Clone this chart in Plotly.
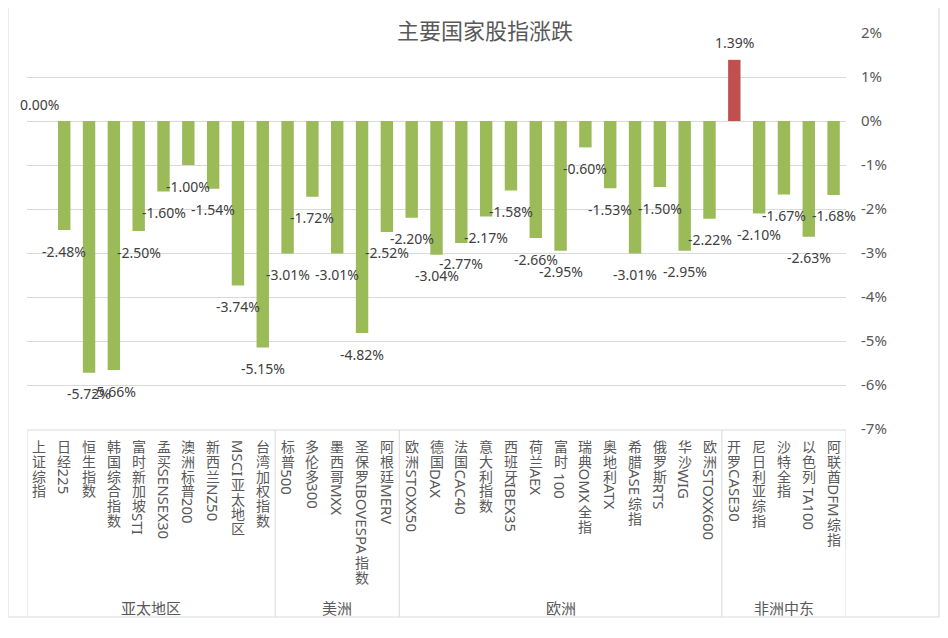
import plotly.graph_objects as go

# ---------------- data ----------------
groups = ["亚太地区", "美洲", "欧洲", "非洲中东"]
group_members = [
    ["上证综指", "日经225", "恒生指数", "韩国综合指数", "富时新加坡STI", "孟买SENSEX30",
     "澳洲标普200", "新西兰NZ50", "MSCI亚太地区", "台湾加权指数"],
    ["标普500", "多伦多300", "墨西哥MXX", "圣保罗IBOVESPA指数", "阿根廷MERV"],
    ["欧洲STOXX50", "德国DAX", "法国CAC40", "意大利指数", "西班牙IBEX35", "荷兰AEX",
     "富时 100", "瑞典OMX全指", "奥地利ATX", "希腊ASE综指", "俄罗斯RTS", "华沙WIG",
     "欧洲STOXX600"],
    ["开罗CASE30", "尼日利亚综指", "沙特全指", "以色列 TA100", "阿联酋DFM综指"],
]
values = [0.00, -2.48, -5.72, -5.66, -2.50, -1.60, -1.00, -1.54, -3.74, -5.15,
          -3.01, -1.72, -3.01, -4.82, -2.52,
          -2.20, -3.04, -2.77, -2.17, -1.58, -2.66, -2.95, -0.60, -1.53, -3.01, -1.50, -2.95, -2.22,
          1.39, -2.10, -1.67, -2.63, -1.68]
y_ticks = [2, 1, 0, -1, -2, -3, -4, -5, -6, -7]
y_ticktext = [f"{t}%" for t in y_ticks]
title = "主要国家股指涨跌"

categories = [c for g in group_members for c in g]
xs = list(range(len(categories)))

# ---------------- style ----------------
OFF = 8                      # page body margin of the browser
W, H = 948 - 2 * OFF, 638 - 2 * OFF
PL, PR, PT, PB = 27, 846, 33, 429   # plot area in window pixels
GREEN = "#9BBB59"
RED = "#C0504D"
GRID = "#D9D9D9"
TXT = "#595959"
LBL = "#404040"
CJK_FONT = "Noto Sans CJK SC"
LAT_FONT = "Noto Sans, Noto Sans CJK SC"


def pxx(p):
    return (p - PL) / (PR - PL)


def pxy(p):
    return (PB - p) / (PB - PT)


colors = [RED if v > 0 else GREEN for v in values]

fig = go.Figure()
fig.add_trace(go.Bar(x=xs, y=values, marker_color=colors, marker_line_width=0,
                     hoverinfo="skip", showlegend=False))

annotations = []

# data labels
for x, v in zip(xs, values):
    annotations.append(dict(
        x=x, y=v, xref="x", yref="y", text=f"{v:.2f}%", showarrow=False,
        xanchor="center", yanchor="middle", yshift=(17 if v >= 0 else -21),
        font=dict(family=LAT_FONT, size=14, color=LBL)))

# vertical category labels (CJK upright, Latin rotated)
LAT_W = {
    **{d: 0.572 for d in "0123456789"},
    "A": 0.639, "B": 0.648, "C": 0.632, "D": 0.735, "E": 0.556, "F": 0.517,
    "G": 0.726, "I": 0.33, "K": 0.613, "L": 0.524, "M": 0.925, "N": 0.765,
    "O": 0.779, "P": 0.603, "R": 0.618, "S": 0.549, "T": 0.553, "V": 0.613,
    "W": 0.924, "X": 0.577, "Z": 0.579, " ": 0.26,
}
FS_CJK = 14
FS_LAT = 15
CJK_STEP = 14.7
TOP = 439


def is_cjk(ch):
    return ord(ch) > 0x2E80


def runs(label):
    out = []
    for ch in label:
        kind = "c" if is_cjk(ch) else ("s" if ch == " " else "l")
        if kind == "l" and out and out[-1][0] == "l":
            out[-1][1] += ch
        else:
            out.append([kind, ch])
    return out


for x, lab in zip(xs, categories):
    cur = TOP
    for kind, txt in runs(lab):
        if kind == "c":
            c = cur + CJK_STEP / 2
            annotations.append(dict(
                x=x, y=pxy(c), xref="x", yref="paper", text=txt, showarrow=False,
                xanchor="center", yanchor="middle", borderpad=0,
                font=dict(family=CJK_FONT, size=FS_CJK, color=TXT)))
            cur += CJK_STEP
        elif kind == "s":
            cur += LAT_W[" "] * FS_LAT
        else:
            w = sum(LAT_W.get(ch, 0.6) for ch in txt) * FS_LAT
            c = cur + w / 2 + 0.5
            annotations.append(dict(
                x=x, y=pxy(c), xref="x", yref="paper", text=txt, showarrow=False,
                xanchor="center", yanchor="middle", textangle=90, borderpad=0,
                font=dict(family=LAT_FONT, size=FS_LAT, color=TXT)))
            cur += w + 1

# group labels and separators
shapes = []
start = 0
bounds = [-0.5]
for g, mem in zip(groups, group_members):
    end = start + len(mem)
    annotations.append(dict(
        x=(start + end - 1) / 2, y=pxy(607), xref="x", yref="paper", text=g,
        showarrow=False, xanchor="center", yanchor="middle",
        font=dict(family=CJK_FONT, size=15, color=TXT)))
    bounds.append(end - 0.5)
    start = end

for b in bounds:
    shapes.append(dict(type="line", xref="x", yref="paper", x0=b, x1=b,
                       y0=pxy(430), y1=pxy(617), line=dict(color=GRID, width=1)))
shapes.append(dict(type="line", xref="x", yref="paper", x0=-0.5, x1=len(xs) - 0.5,
                   y0=pxy(430), y1=pxy(430), line=dict(color=GRID, width=1)))
# outer chart border
shapes.append(dict(type="rect", xref="paper", yref="paper", x0=pxx(8), x1=pxx(939),
                   y0=pxy(617), y1=pxy(5), line=dict(color=GRID, width=1),
                   fillcolor="rgba(0,0,0,0)", layer="below"))

# title
annotations.append(dict(
    x=pxx(485), y=pxy(29), xref="paper", yref="paper", text=title, showarrow=False,
    xanchor="center", yanchor="middle",
    font=dict(family=CJK_FONT, size=22, color=TXT)))

fig.update_layout(
    width=W, height=H,
    margin=dict(l=PL - OFF, r=W - (PR - OFF), t=PT - OFF, b=H - (PB - OFF), pad=0),
    paper_bgcolor="white", plot_bgcolor="white",
    bargap=0.5,
    showlegend=False,
    xaxis=dict(range=[-0.5, len(xs) - 0.5], showticklabels=False, showgrid=False,
               zeroline=False, showline=False, ticks=""),
    yaxis=dict(side="right", range=[-7, 2], tickvals=y_ticks, ticktext=y_ticktext,
               showgrid=True, gridcolor=GRID, gridwidth=1, zeroline=False,
               showline=False, ticks="", ticklabelstandoff=14,
               tickfont=dict(family=LAT_FONT, size=15, color=TXT)),
    annotations=annotations,
    shapes=shapes,
)

fig.write_html("out.html")
